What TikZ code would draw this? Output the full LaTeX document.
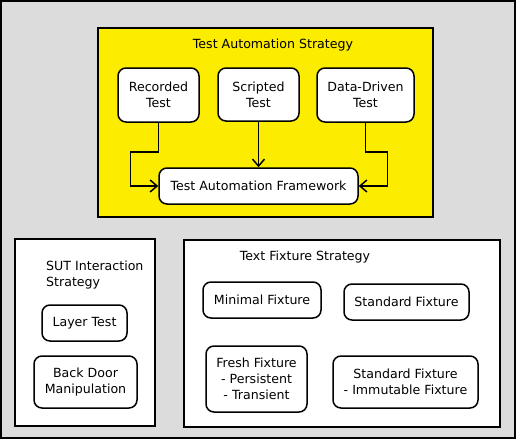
\documentclass[tikz,border=0pt]{standalone}
\usepackage{fontspec}
\setmainfont{DejaVu Sans}
\usetikzlibrary{arrows.meta, positioning}

\definecolor{panelgray}{RGB}{220,220,220}
\definecolor{stratyellow}{RGB}{252,236,0}

\tikzset{
  group/.style={draw, line width=1.5pt, fill=white, inner sep=0pt},
  item/.style={draw, line width=1.5pt, fill=white, rounded corners=8pt,
               align=center, inner sep=0pt},
  conn/.style={line width=1.5pt, -{Straight Barb[length=7pt,width=12pt]}},
}

\begin{document}
\begin{tikzpicture}[x=1pt, y=-1pt, font=\fontsize{12.6}{16}\selectfont]
    \useasboundingbox (0,0) rectangle (516,439);
    \draw[line width=1.5pt, fill=panelgray] (1,1) rectangle (515,438);

    % test automation strategy
    \node[group, fill=stratyellow, minimum width=335, minimum height=189] (tas) at (265.5,122.5) {};
    \node (tastitle) at (273,45) {Test Automation Strategy};
    \node[item, minimum width=81, minimum height=54] (rec) at (158.5,95) {Recorded\\Test};
    \node[item, minimum width=81, minimum height=53] (scr) at (258.5,94.5) {Scripted\\Test};
    \node[item, minimum width=97, minimum height=54] (dd) at (365.5,95) {Data-Driven\\Test};
    \node[item, minimum width=199, minimum height=36] (fw) at (258.5,186) {Test Automation Framework};
    \draw[conn] (rec.south) -- ++(0,29) -- ++(-28,0) |- (fw.west);
    \draw[conn] (scr.south) -- (fw.north);
    \draw[conn] (dd.south) -- ++(0,29) -- ++(22,0) |- (fw.east);

    % SUT interaction strategy
    \node[group, minimum width=140, minimum height=187] (sut) at (85,332.5) {};
    \node[anchor=west, align=left, inner sep=0pt] (suttitle) at (46,275) {SUT Interaction\\Strategy};
    \node[item, minimum width=85, minimum height=36] (layer) at (84.5,323) {Layer Test};
    \node[item, minimum width=103, minimum height=52] (backdoor) at (85.5,382) {Back Door\\Manipulation};

    % fixture strategy
    \node[group, minimum width=316, minimum height=187] (tfs) at (342,333.5) {};
    \node (tfstitle) at (305,257) {Text Fixture Strategy};
    \node[item, minimum width=118, minimum height=36] (minimal) at (262,300) {Minimal Fixture};
    \node[item, minimum width=125, minimum height=36] (standard) at (406.5,302) {Standard Fixture};
    \node[item, minimum width=101, minimum height=66] (fresh) at (256.5,379) {Fresh Fixture\\- Persistent\\- Transient};
    \node[item, minimum width=145, minimum height=52] (immutable) at (405.5,382) {Standard Fixture\\- Immutable Fixture};
\end{tikzpicture}
\end{document}
